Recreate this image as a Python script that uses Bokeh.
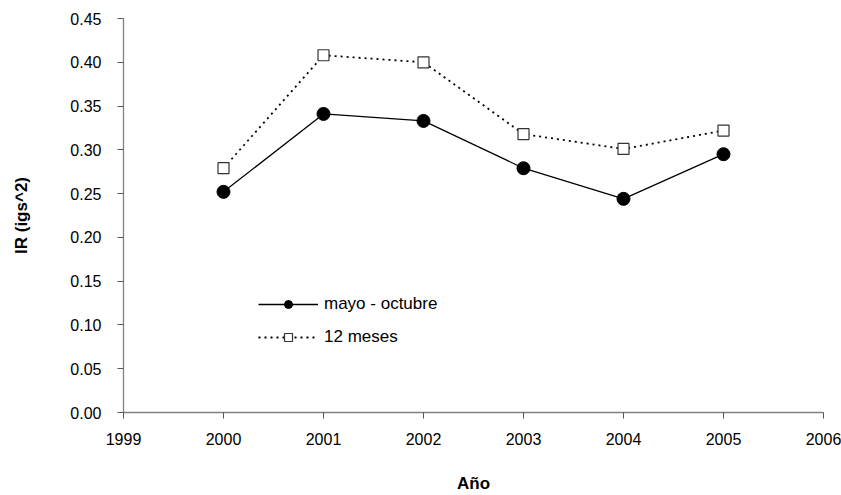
from bokeh.plotting import figure
from bokeh.models import ColumnDataSource, Range1d, FixedTicker, NumeralTickFormatter, Legend, LegendItem
from bokeh.embed import file_html
from bokeh.resources import INLINE

years = [2000, 2001, 2002, 2003, 2004, 2005]
mayo_octubre = [0.252, 0.341, 0.333, 0.279, 0.244, 0.295]
doce_meses = [0.279, 0.408, 0.400, 0.318, 0.301, 0.322]
x_ticks = [1999, 2000, 2001, 2002, 2003, 2004, 2005, 2006]
y_ticks = [0.0, 0.05, 0.10, 0.15, 0.20, 0.25, 0.30, 0.35, 0.40, 0.45]

FONT = "Liberation Sans"

src = ColumnDataSource(dict(x=years, a=mayo_octubre, b=doce_meses))

p = figure(width=841, height=495, output_backend="svg", toolbar_location=None,
           x_range=Range1d(1999, 2006), y_range=Range1d(0, 0.45),
           min_border_left=123, min_border_right=18, min_border_top=18, min_border_bottom=82)
p.outline_line_color = None
p.grid.visible = False
p.background_fill_color = "white"
p.border_fill_color = "white"

r1l = p.line("x", "a", source=src, line_color="black", line_width=1.3)
r1m = p.scatter("x", "a", source=src, marker="circle", size=13, fill_color="black", line_color="black")
r2l = p.line("x", "b", source=src, line_color="black", line_width=1.8, line_dash="2 4")
r2m = p.scatter("x", "b", source=src, marker="square", size=11, fill_color="white", line_color="#333333", line_width=1.2)

for ax in (p.xaxis[0], p.yaxis[0]):
    ax.axis_line_color = "#808080"
    ax.axis_line_width = 1.3
    ax.major_tick_line_color = "#555555"
    ax.major_tick_in = 0
    ax.major_tick_out = 6
    ax.minor_tick_line_color = None
    ax.major_label_text_font = FONT
    ax.major_label_text_font_size = "16px"
    ax.major_label_text_color = "black"
    ax.axis_label_text_font = FONT
    ax.axis_label_text_font_size = "17px"
    ax.axis_label_text_font_style = "bold"
    ax.axis_label_text_color = "black"

p.xaxis.ticker = FixedTicker(ticks=x_ticks)
p.yaxis.ticker = FixedTicker(ticks=y_ticks)
p.yaxis.formatter = NumeralTickFormatter(format="0.00")
p.xaxis.axis_label = "Año"
p.yaxis.axis_label = "IR (igs^2)"
p.xaxis.major_label_standoff = 14
p.yaxis.major_label_standoff = 16
p.xaxis.axis_label_standoff = 26
p.yaxis.axis_label_standoff = 36

legend = Legend(items=[LegendItem(label="mayo - octubre", renderers=[r1l, r1m]),
                       LegendItem(label="12 meses", renderers=[r2l, r2m])],
                location=(135, 65))
legend.glyph_width = 60
legend.glyph_height = 20
legend.spacing = 13
legend.padding = 0
legend.margin = 0
legend.border_line_color = None
legend.background_fill_alpha = 0
legend.label_standoff = 6
legend.label_text_font = FONT
legend.label_text_font_size = "17px"
legend.label_text_color = "black"
p.add_layout(legend)

open("out.html", "w").write(file_html(p, INLINE))
